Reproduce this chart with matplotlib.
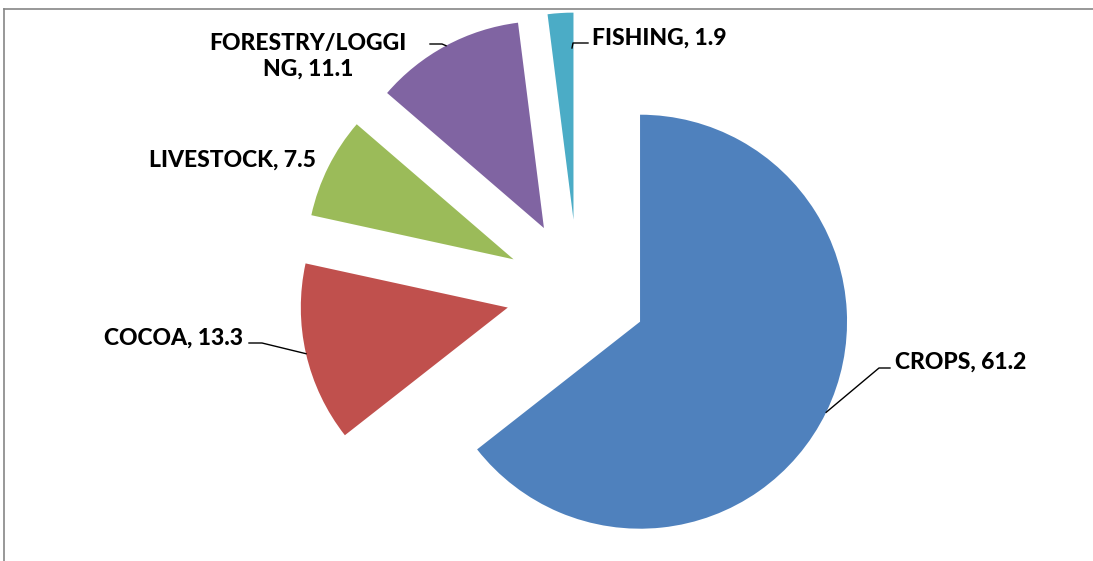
import matplotlib
matplotlib.use('Agg')
import matplotlib.pyplot as plt
import numpy as np

categories = ['CROPS', 'COCOA', 'LIVESTOCK', 'FORESTRY/LOGGING', 'FISHING']
values = [61.2, 13.3, 7.5, 11.1, 1.9]
label_text = ['CROPS, 61.2', 'COCOA, 13.3', 'LIVESTOCK, 7.5',
              'FORESTRY/LOGGI\nNG, 11.1', 'FISHING, 1.9']
colors = ['#4F81BD', '#C0504D', '#9BBB59', '#8064A2', '#4BACC6']

W, H = 1093, 561
fig = plt.figure(figsize=(W / 100, H / 100), dpi=100)
ax = fig.add_axes([0, 0, 1, 1])


def py(y):
    return H - y


wedges, _ = ax.pie(values, colors=colors, startangle=90, counterclock=False,
                   radius=207, center=(578, py(291.5)),
                   explode=[69, 72, 72, 72, 72],
                   wedgeprops=dict(linewidth=0))
ax.set_xlim(0, W)
ax.set_ylim(0, H)
ax.set_aspect('auto')
ax.axis('off')

# border
ax.plot([4, 4], [py(561), py(9)], color='#868686', lw=1.2, clip_on=False)
ax.plot([4, W], [py(9), py(9)], color='#868686', lw=1.2, clip_on=False)


def arc_mid(w):
    m = np.deg2rad((w.theta1 + w.theta2) / 2)
    cx, cy = w.center
    return cx + w.r * np.cos(m), cy + w.r * np.sin(m)


font = dict(family='Lato', fontweight=900, fontsize=16.5, color='black')
lk = dict(color='black', lw=1.0)

# CROPS
x0, y0 = arc_mid(wedges[0])
ax.plot([x0, 879, 890], [y0, py(368), py(368)], **lk)
ax.text(895, py(369), label_text[0], ha='left', va='baseline', **font)

# COCOA
x0, y0 = arc_mid(wedges[1])
ax.plot([x0, 262, 249], [y0, py(343), py(343)], **lk)
ax.text(243, py(345), label_text[1], ha='right', va='baseline', **font)

# LIVESTOCK
ax.text(316, py(167), label_text[2], ha='right', va='baseline', **font)

# FORESTRY
x0, y0 = arc_mid(wedges[3])
ax.plot([x0, 442, 430], [y0, py(44), py(44)], **lk)
ax.text(308, py(76), label_text[3], ha='center', va='baseline',
        multialignment='center', linespacing=1.3, **font)

# FISHING
ax.plot([572, 573, 588], [py(48), py(43), py(43)], **lk)
ax.text(592, py(45), label_text[4], ha='left', va='baseline', **font)

fig.savefig('out.png', dpi=100)
